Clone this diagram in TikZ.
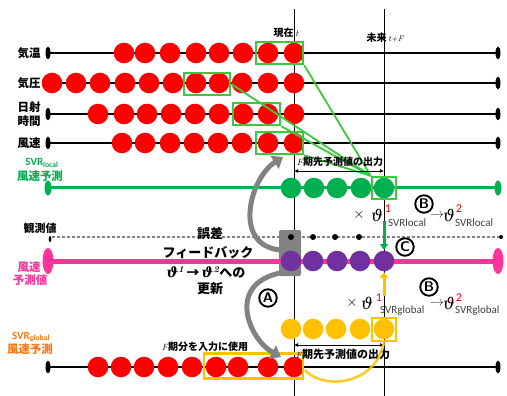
\documentclass[tikz,border=0pt]{standalone}
\usepackage{fontspec}
\newfontfamily\jp{Noto Sans CJK JP}
\newfontfamily\carl{Carlito}
\newfontfamily\thf{DejaVu Serif}
\usetikzlibrary{arrows.meta}
\definecolor{redc}{RGB}{255,0,0}
\definecolor{boxg}{RGB}{60,200,60}
\definecolor{predg}{RGB}{0,176,80}
\definecolor{purp}{RGB}{112,48,160}
\definecolor{pinkc}{RGB}{255,51,153}
\definecolor{yelc}{RGB}{255,192,0}
\definecolor{orac}{RGB}{245,120,20}
\definecolor{grayc}{RGB}{130,130,130}
\definecolor{subg}{RGB}{64,64,64}
\begin{document}
\begin{tikzpicture}[x=1pt,y=-1pt,
  vline/.style={draw=black,line width=0.8pt},
  rowline/.style={draw=black,line width=2pt},
  dot/.style={circle,inner sep=0pt,minimum size=20.6pt},
  rc/.style={dot,fill=redc},
  gc/.style={dot,fill=predg},
  pc/.style={dot,fill=purp},
  yc/.style={dot,fill=yelc},
  bd/.style={circle,fill=black,inner sep=0pt,minimum size=6pt},
  gbox/.style={draw=boxg,line width=2.4pt,inner sep=0pt},
  ybox/.style={draw=yelc,line width=2.4pt,inner sep=0pt},
  gline/.style={draw=boxg,line width=1.8pt},
  lab/.style={font=\jp\bfseries\fontsize{11.5}{12}\selectfont,inner sep=0pt},
  ctr/.style={font=\jp\bfseries\fontsize{13}{13}\selectfont,inner sep=0pt},
  sm/.style={font=\jp\bfseries\fontsize{10}{10}\selectfont,inner sep=0pt},
  circ/.style={circle,draw=black,line width=1.9pt,inner sep=0pt,minimum size=17.5pt,font=\sffamily\bfseries\fontsize{14}{14}\selectfont},
  garrow/.style={draw=grayc,line width=5pt,-{Triangle[length=10pt,width=15pt]}},
  thetabig/.style={inner sep=0pt,font=\thf\itshape\fontsize{16}{16}\selectfont},
  timesbig/.style={inner sep=0pt,font=\fontsize{14}{14}\selectfont},
  supred/.style={inner sep=0pt,text=red,font=\carl\fontsize{12}{12}\selectfont},
  subgray/.style={inner sep=0pt,anchor=west,text=subg,font=\carl\fontsize{11}{11}\selectfont},
  arrbig/.style={inner sep=0pt,text=subg,font=\fontsize{15}{15}\selectfont}
]
\useasboundingbox (0,0) rectangle (507,396);

% vertical time lines
\coordinate (vt0) at (294,9); \coordinate (vt1) at (294,396);
\coordinate (vf0) at (384,9); \coordinate (vf1) at (384,396);
\draw[vline] (vt0) -- (vt1);
\draw[vline] (vf0) -- (vf1);

\node[sm,anchor=base] (now) at (286,37) {現在\,{\rmfamily\itshape\mdseries\fontsize{9}{9}\selectfont t}};
\node[sm,anchor=base] (fut) at (385,42) {未来\,{\rmfamily\itshape\mdseries\fontsize{8}{8}\selectfont t+F}};

% input rows
\foreach \y/\n in {53/1,83/2,114/3,143/4,367/5}{
  \coordinate (ra\n) at (48,\y); \coordinate (rb\n) at (498,\y);
  \draw[rowline] (ra\n) -- (rb\n);
  \fill (ra\n) ellipse (2.5pt and 6.5pt);
  \fill (rb\n) ellipse (2.5pt and 6.5pt);
}
\foreach \x [count=\i] in {124,145,170,196,219,243,268,294} \node[rc] (k\i) at (\x,53) {};
\foreach \x [count=\i] in {52,76,100,125,149,173,196,219,242,268,294} \node[rc] (p\i) at (\x,83) {};
\foreach \x [count=\i] in {98,124,147,171,195,219,243,268,294} \node[rc] (s\i) at (\x,114) {};
\foreach \x [count=\i] in {122,145,170,194,218,242,268,294} \node[rc] (w\i) at (\x,143) {};
\foreach \x [count=\i] in {98,121,144,168,192,216,238,268,294} \node[rc] (g\i) at (\x,367) {};

\node[lab] (l1) at (29,53) {気温};
\node[lab] (l2) at (29,83) {気圧};
\node[lab,align=center,font=\jp\bfseries\fontsize{11.5}{14}\selectfont] (l3) at (29,114) {日射\\時間};
\node[lab] (l4) at (29,143) {風速};

% green prediction row
\coordinate (gla) at (48,188); \coordinate (glb) at (498,188);
\draw[draw=predg,line width=3pt] (gla) -- (glb);
\fill[predg] (gla) ellipse (3.5pt and 7.5pt);
\fill[predg] (glb) ellipse (3.5pt and 7.5pt);
\foreach \x [count=\i] in {291,314,337,361,384} \node[gc] (gp\i) at (\x,188) {};
\node[inner sep=0pt,text=predg,font=\carl\bfseries\fontsize{11}{11}\selectfont] (svl) at (42,163) {SVR\textsubscript{local}};
\node[lab,text=predg] (svl2) at (40,176) {風速予測};

% observation row
\node[draw=none,fill=grayc,rounded corners=2pt,minimum width=22pt,minimum height=46pt,inner sep=0pt] (gb) at (290,253) {};
\coordinate (oa) at (52,237); \coordinate (ob) at (500,237);
\draw[draw=grayc,line width=1.3pt,dash pattern=on 3pt off 2pt] (oa) -- (ob);
\fill (50,239) ellipse (1.3pt and 3pt);
\node[bd,minimum size=4pt] (oe) at (501,237) {};
\foreach \x [count=\i] in {291,313,335,359} \node[bd] (o\i) at (\x,237) {};
\node[lab,font=\jp\bfseries\fontsize{11}{11}\selectfont] (obl) at (40,228) {観測値};

% pink forecast row
\coordinate (pa) at (48,261); \coordinate (pb) at (498,261);
\draw[draw=pinkc,line width=5pt] (pa) -- (pb);
\fill[pinkc] (pa) ellipse (5.5pt and 13pt);
\fill[pinkc] (pb) ellipse (5.5pt and 13pt);
\foreach \x [count=\i] in {291,313,337,360,384} \node[pc] (pp\i) at (\x,261) {};
\node[lab,text=pinkc] (pl1) at (29,267) {風速};
\node[lab,text=pinkc] (pl2) at (30,280) {予測値};

% yellow row
\foreach \x [count=\i] in {291,313,336,360,384} \node[yc] (yp\i) at (\x,329) {};
\node[inner sep=0pt,text=orac,font=\carl\bfseries\fontsize{11}{11}\selectfont] (svg) at (31,337) {SVR\textsubscript{global}};
\node[lab,text=orac] (svg2) at (30,349) {風速予測};

% boxes
\node[gbox,minimum width=47pt,minimum height=22pt] (b1) at (279.5,53) {};
\node[gbox,minimum width=46pt,minimum height=22pt] (b2) at (207,84) {};
\node[gbox,minimum width=47pt,minimum height=22pt] (b3) at (256.5,114) {};
\node[gbox,minimum width=47pt,minimum height=22pt] (b4) at (279.5,143) {};
\node[gbox,minimum width=24pt,minimum height=22pt] (tg) at (384,188) {};
\node[ybox,minimum width=24pt,minimum height=23pt] (ty) at (384,329.5) {};
\node[ybox,minimum width=99pt,minimum height=25pt] (yb) at (253.5,366) {};

% green connectors
\draw[gline] (b1.south east) -- (tg.north west);
\draw[gline] (b2.east) -- (tg.north west);
\draw[gline] (b3.south east) -- (tg.north west);
\draw[gline] (b4.south east) -- (tg.north west);

% brackets
\coordinate (br1a) at (294,171); \coordinate (br1b) at (384,171);
\draw[line width=0.8pt,{Latex[length=4pt,width=4pt]}-{Latex[length=4pt,width=4pt]}] (br1a) -- (br1b);
\node[sm,anchor=base] (br1t) at (340,165) {{\rmfamily\itshape\mdseries\fontsize{9}{9}\selectfont F}期先予測値の出力};
\coordinate (br2a) at (294,345); \coordinate (br2b) at (384,345);
\draw[line width=0.8pt,{Latex[length=4pt,width=4pt]}-{Latex[length=4pt,width=4pt]}] (br2a) -- (br2b);
\node[sm,anchor=base,font=\jp\bfseries\fontsize{11}{11}\selectfont] (br2t) at (343,358) {{\rmfamily\itshape\mdseries\fontsize{9}{9}\selectfont F}期先予測値の出力};
\node[sm,anchor=base] (inp) at (205,350) {{\rmfamily\itshape\mdseries\fontsize{9}{9}\selectfont F}期分を入力に使用};

% yellow curve
\coordinate (yc0) at (305,370);
\draw[draw=yelc,line width=2.5pt,opacity=0.85] (yc0) .. controls (322,390) and (376,386) .. (ty.south);

% vertical arrows
\coordinate (gas) at (384,221); \coordinate (gae) at (384,250);
\draw[draw=predg,line width=3pt,-{Triangle[length=6pt,width=8pt]}] (gas) -- (gae);
\coordinate (yas) at (384,296); \coordinate (yae) at (384,272);
\draw[draw=yelc,line width=3pt,-{Triangle[length=6pt,width=8pt]}] (yas) -- (yae);

% gray curved arrows
\coordinate (ga1s) at (280,250); \coordinate (ga1e) at (283,157);
\draw[garrow] (ga1s) .. controls (232,245) and (250,178) .. (ga1e);
\coordinate (ga2s) at (280,273); \coordinate (ga2e) at (281,357);
\draw[garrow] (ga2s) .. controls (225,285) and (250,340) .. (ga2e);

% centre text
\node[ctr,anchor=base] (c1) at (210,239) {誤差};
\node[ctr,anchor=base] (c2) at (208,258) {フィードバック};
\node[ctr,anchor=base] (c3) at (206,277) {{\thf\bfseries\itshape\fontsize{14}{14}\selectfont ϑ}\textsuperscript{\rmfamily\itshape 1}\,→\,{\thf\bfseries\itshape\fontsize{14}{14}\selectfont ϑ}\textsuperscript{\rmfamily\itshape 2}への};
\node[ctr,anchor=base] (c4) at (210,293) {更新};

% circled letters
\node[circ] (cB1) at (424,204) {B};
\node[circ] (cC) at (405,247) {C};
\node[circ] (cB2) at (429,287) {B};
\node[circ] (cA) at (268,298) {A};

% theta formulas (local)
\node[timesbig] (x1) at (359,215) {$\times$};
\node[thetabig] (t1a) at (377,215) {ϑ};
\node[supred] (s1a) at (388,209) {1};
\node[subgray] (u1a) at (388,223) {SVRlocal};
\node[arrbig] (a1) at (437,216) {$\rightarrow$};
\node[thetabig] (t1b) at (449,215) {ϑ};
\node[supred] (s1b) at (459,209) {2};
\node[subgray] (u1b) at (455,223) {SVRlocal};
% theta formulas (global)
\node[timesbig] (x2) at (352,303) {$\times$};
\node[thetabig] (t2a) at (367,303) {ϑ};
\node[supred] (s2a) at (379,298) {1};
\node[subgray] (u2a) at (380,311) {SVRglobal};
\node[arrbig] (a2) at (437,304) {$\rightarrow$};
\node[thetabig] (t2b) at (449,303) {ϑ};
\node[supred] (s2b) at (459,298) {2};
\node[subgray] (u2b) at (455,311) {SVRglobal};
\end{tikzpicture}
\end{document}
